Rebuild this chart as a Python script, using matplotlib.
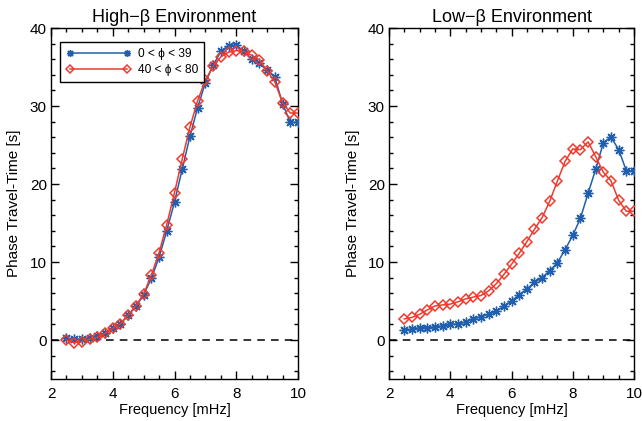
import numpy as np
import matplotlib
matplotlib.use("Agg")
import matplotlib.pyplot as plt
from matplotlib.ticker import MultipleLocator

plt.rcParams['font.family'] = ['Liberation Sans', 'DejaVu Sans']

freq = [2.5, 2.75, 3.0, 3.25, 3.5, 3.75, 4.0, 4.25, 4.5, 4.75, 5.0, 5.25, 5.5,
        5.75, 6.0, 6.25, 6.5, 6.75, 7.0, 7.25, 7.5, 7.75, 8.0, 8.25, 8.5, 8.75,
        9.0, 9.25, 9.5, 9.75, 10.0]

high_low_phi = [0.2, 0.1, 0.1, 0.3, 0.5, 0.85, 1.5, 2.1, 3.2, 4.3, 5.8, 7.9, 10.6,
                14.0, 17.7, 21.9, 26.1, 29.8, 33.0, 35.2, 37.0, 37.7, 37.8, 37.0,
                36.0, 35.5, 34.6, 33.7, 30.3, 27.9, 27.9]
high_high_phi = [0.0, -0.35, -0.2, 0.1, 0.35, 0.85, 1.5, 2.1, 3.2, 4.4, 5.9, 8.3, 11.2,
                 14.8, 18.9, 23.2, 27.3, 30.7, 33.3, 35.1, 36.3, 36.9, 37.1, 37.0,
                 36.5, 35.9, 34.5, 33.1, 30.4, 29.1, 29.1]

low_low_phi = [1.3, 1.37, 1.6, 1.6, 1.7, 1.8, 2.0, 2.05, 2.3, 2.7, 3.0, 3.3, 3.7,
               4.3, 5.0, 5.8, 6.5, 7.4, 8.0, 8.9, 9.9, 11.6, 13.4, 15.6, 18.8,
               21.9, 25.3, 26.0, 24.4, 21.7, 21.7]
low_high_phi = [2.7, 2.9, 3.3, 3.85, 4.36, 4.5, 4.6, 4.9, 5.26, 5.5, 5.7, 6.3, 7.2,
                8.4, 9.7, 11.1, 12.6, 14.2, 15.7, 17.8, 20.4, 22.9, 24.5, 24.4,
                25.4, 23.5, 21.5, 20.4, 17.9, 16.5, 16.5]

titles = ["High\u2212\u03b2 Environment", "Low\u2212\u03b2 Environment"]
labels = ["0 < \u03d5 < 39", "40 < \u03d5 < 80"]

BLUE = "#1f5fae"
RED = "#ee3b2e"

fig = plt.figure(figsize=(6.42, 4.21), dpi=100)
ax1 = fig.add_axes([51/642, 1 - 379/421, 247/642, 351/421])
ax2 = fig.add_axes([389/642, 1 - 379/421, 245/642, 351/421])

panels = [(ax1, high_low_phi, high_high_phi, titles[0]),
          (ax2, low_low_phi, low_high_phi, titles[1])]

for i, (ax, blue, red, title) in enumerate(panels):
    ax.axhline(0, color='black', lw=1.1, ls=(0, (5, 4)), zorder=1)
    lb, = ax.plot(freq, blue, color=BLUE, lw=1.1, marker=(8, 2, 0), ms=7,
                  mew=1.0, zorder=3)
    lr, = ax.plot(freq, red, color=RED, lw=1.1, marker='D', ms=5.5,
                  mfc='none', mec=RED, mew=1.1, zorder=4)
    ax.set_xlim(2, 10)
    ax.set_ylim(-5, 40)
    ax.xaxis.set_major_locator(MultipleLocator(2))
    ax.xaxis.set_minor_locator(MultipleLocator(0.5))
    ax.yaxis.set_major_locator(MultipleLocator(10))
    ax.yaxis.set_minor_locator(MultipleLocator(2))
    ax.tick_params(which='both', direction='in', top=True, right=True,
                   labelsize=11, width=1, color='black')
    ax.tick_params(which='major', length=6)
    ax.tick_params(which='minor', length=3)
    ax.tick_params(axis='y', which='major', pad=3)
    ax.tick_params(axis='x', which='major', pad=6)
    for s in ax.spines.values():
        s.set_linewidth(1.0)
    ax.set_xlabel("Frequency [mHz]", fontsize=10.5, labelpad=1)
    ax.set_ylabel("Phase Travel-Time [s]", fontsize=11, labelpad=6)
    ax.set_title(title, fontsize=13, pad=4)
    if i == 0:
        leg = ax.legend([lb, lr], labels, loc='upper left',
                        bbox_to_anchor=(9/247, 1 - 14/351), borderaxespad=0,
                        fontsize=8.6, handlelength=5.4, numpoints=2,
                        markerscale=0.72,
                        fancybox=False, edgecolor='black', framealpha=1,
                        borderpad=0.5, labelspacing=0.35, handletextpad=0.6)
        leg.get_frame().set_linewidth(1.0)

fig.savefig("out.png", dpi=100)
